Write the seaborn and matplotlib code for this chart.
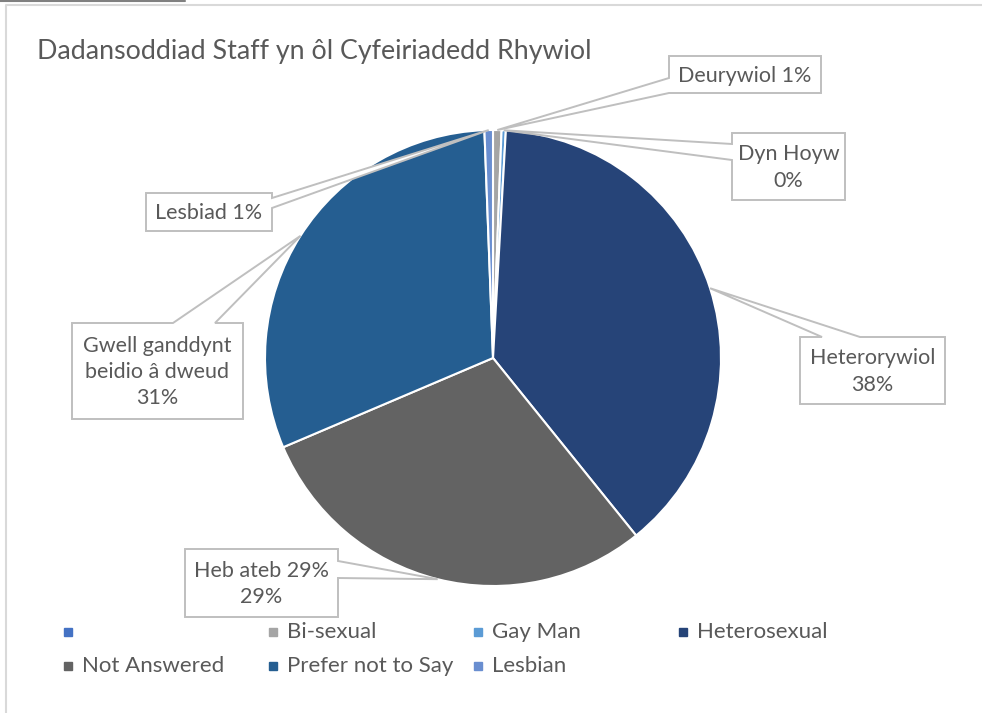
import numpy as np
import matplotlib
matplotlib.use("Agg")
import matplotlib.pyplot as plt
import seaborn as sns
from matplotlib.patches import Polygon

# data (in Excel's slice order)
categories = ["", "Bi-sexual", "Gay Man", "Heterosexual", "Not Answered", "Prefer not to Say", "Lesbian"]
label_names = ["", "Deurywiol", "Dyn Hoyw", "Heterorywiol", "Heb ateb 29%", "Gwell ganddynt\nbeidio â dweud", "Lesbiad"]
label_seps = [" ", " ", "\n", "\n", "\n", "\n", " "]
shares = [0.0, 0.6, 0.3, 38.3, 29.4, 30.8, 0.6]
colors = sns.color_palette(["#4472C4", "#A5A5A5", "#5B9BD5", "#264478", "#636363", "#255E91", "#698ED0"])

title = "Dadansoddiad Staff yn ôl Cyfeiriadedd Rhywiol"

sns.set_theme(style="white")
plt.rcParams["font.family"] = ["Lato", "DejaVu Sans"]
txt_col = "#595959"

W, H = 982, 713
fig = plt.figure(figsize=(W / 100, H / 100), dpi=100)

bg = fig.add_axes([0, 0, 1, 1])
bg.set_xlim(0, W)
bg.set_ylim(H, 0)
bg.axis("off")
bg.plot([6, 6, W + 5], [H + 5, 5, 5], color="#d9d9d9", lw=1.5)
bg.plot([0, 185], [1, 1], color="#808080", lw=1.5)
bg.text(37, 51, title, fontsize=19.3, color=txt_col, va="center", ha="left")

# pie
cx, cy, R = 493, 358, 228
ax = fig.add_axes([(cx - R) / W, 1 - (cy + R) / H, 2 * R / W, 2 * R / H])
ax.pie(shares, colors=colors, startangle=90, counterclock=False,
       wedgeprops=dict(edgecolor="white", linewidth=1.5))
ax.set_xlim(-1, 1)
ax.set_ylim(-1, 1)
ax.set_aspect("auto")

ov = fig.add_axes([0, 0, 1, 1])
ov.set_xlim(0, W)
ov.set_ylim(H, 0)
ov.axis("off")
ov.patch.set_alpha(0)

# callout boxes: (x0, y0, x1, y1), side of the pointer, pointer base
boxes = {
    1: ((669, 56, 821, 93), "left", (78, 93)),
    2: ((732, 133, 845, 200), "left", (144, 160)),
    3: ((800, 337, 945, 404), "top", (822, 860)),
    4: ((185, 549, 338, 617), "right", (561, 578)),
    5: ((72, 323, 243, 419), "top", (173, 215)),
    6: ((146, 193, 272, 231), "right", (198, 208)),
}

total = sum(shares)
cum = np.cumsum([0] + shares)
for i, (box, side, base) in boxes.items():
    mid = (cum[i] + cum[i + 1]) / 2 / total * 2 * np.pi
    tip = (cx + R * np.sin(mid), cy - R * np.cos(mid))
    x0, y0, x1, y1 = box
    a, b = base
    if side == "top":
        pts = [(x0, y0), (a, y0), tip, (b, y0), (x1, y0), (x1, y1), (x0, y1)]
    elif side == "right":
        pts = [(x0, y0), (x1, y0), (x1, a), tip, (x1, b), (x1, y1), (x0, y1)]
    else:
        pts = [(x0, y0), (x1, y0), (x1, y1), (x0, y1), (x0, b), tip, (x0, a)]
    ov.add_patch(Polygon(pts, closed=True, fc="white", ec="#bfbfbf", lw=1.4))
    pct = f"{round(shares[i] / total * 100)}%"
    ov.text((x0 + x1) / 2, (y0 + y1) / 2 + 1, label_names[i] + label_seps[i] + pct,
            ha="center", va="center", fontsize=15.5, color=txt_col, linespacing=1.38)

# legend, Excel style grid
leg_x = [68, 273, 478, 683]
leg_y = [632, 666]
for k, name in enumerate(categories):
    r, c = divmod(k, 4)
    bg.plot(leg_x[c], leg_y[r], marker="s", ms=6, color=colors[k], ls="none")
    bg.text(leg_x[c] + 14, leg_y[r], name, fontsize=16, color=txt_col, va="center", ha="left")

fig.savefig("out.png", dpi=100, facecolor="white")
plt.close(fig)
